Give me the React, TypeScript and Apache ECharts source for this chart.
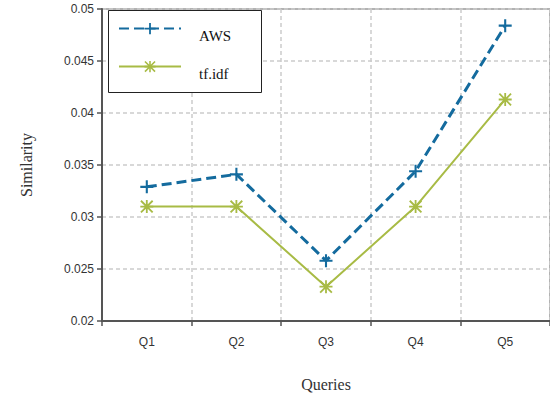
import React, { useEffect, useRef } from "react";
import * as echarts from "echarts";

const categories = ["Q1", "Q2", "Q3", "Q4", "Q5"];
const awsValues = [0.0329, 0.0341, 0.0258, 0.0344, 0.0484];
const tfidfValues = [0.031, 0.031, 0.0233, 0.031, 0.0413];
const yMin = 0.02;
const yMax = 0.05;
const yInterval = 0.005;

const plusPath = "path://M4.2,0H5.8V4.2H10V5.8H5.8V10H4.2V5.8H0V4.2H4.2Z";
const starPath =
  "path://M0,1L1,0L10,9L9,10Z M9,0L10,1L1,10L0,9Z M0,4.3H10V5.7H0Z M4.3,0H5.7V10H4.3Z";

const legendBase = {
  orient: "vertical",
  left: 118,
  padding: 0,
  z: 5,
  itemWidth: 62,
  itemHeight: 14,
  formatter: "{a|{name}}",
  textStyle: {
    fontFamily: "Liberation Serif",
    fontSize: 15,
    color: "#111",
    rich: {
      a: {
        fontFamily: "Liberation Serif",
        fontSize: 15,
        color: "#111",
        padding: [14, 0, 0, 13],
      },
    },
  },
};

export default function App() {
  const ref = useRef<HTMLDivElement>(null);
  useEffect(() => {
    if (!ref.current) return;
    const chart = echarts.init(ref.current, null, { renderer: "svg" });
    chart.setOption({
      animation: false,
      backgroundColor: "#ffffff",
      grid: {
        left: 102,
        top: 9,
        right: -4,
        bottom: 74,
        show: true,
        borderColor: "#999",
        borderWidth: 1.5,
      },
      graphic: [
        {
          type: "rect",
          z: 3,
          shape: { x: 108.5, y: 10.5, width: 153, height: 82 },
          style: { fill: "#fff", stroke: "#222", lineWidth: 1 },
        },
      ],
      legend: [
        { ...legendBase, top: 23, data: ["AWS"] },
        { ...legendBase, top: 61, data: ["tf.idf"] },
      ],
      xAxis: {
        type: "category",
        data: categories,
        boundaryGap: true,
        name: "Queries",
        nameLocation: "middle",
        nameGap: 55,
        nameTextStyle: { fontFamily: "Liberation Serif", fontSize: 16, color: "#333" },
        axisLine: { lineStyle: { color: "#555", width: 2 } },
        axisTick: { show: true, length: 5, lineStyle: { color: "#555", width: 1.5 } },
        axisLabel: { fontFamily: "Liberation Sans", fontSize: 12, color: "#333", margin: 15 },
        splitLine: { show: true, lineStyle: { color: "#ccc", type: [4, 3], width: 1.5 } },
      },
      yAxis: {
        type: "value",
        min: yMin,
        max: yMax,
        interval: yInterval,
        name: "Similarity",
        nameLocation: "middle",
        nameGap: 68,
        nameTextStyle: { fontFamily: "Liberation Serif", fontSize: 16, color: "#333" },
        axisLine: { show: true, lineStyle: { color: "#555", width: 2 } },
        axisTick: { show: true, length: 5, lineStyle: { color: "#555", width: 1.5 } },
        axisLabel: { fontFamily: "Liberation Sans", fontSize: 12, color: "#333", margin: 8 },
        splitLine: { show: true, lineStyle: { color: "#ccc", type: [4, 3], width: 1.5 } },
      },
      series: [
        {
          name: "AWS",
          type: "line",
          data: awsValues,
          symbol: plusPath,
          symbolSize: 13,
          showAllSymbol: true,
          lineStyle: { color: "#146b9e", width: 3, type: [10, 5] },
          itemStyle: { color: "#146b9e" },
          z: 3,
        },
        {
          name: "tf.idf",
          type: "line",
          data: tfidfValues,
          symbol: starPath,
          symbolSize: 13,
          showAllSymbol: true,
          lineStyle: { color: "#a8bb45", width: 2, type: "solid" },
          itemStyle: { color: "#a8bb45" },
          z: 2,
        },
      ],
    });
    return () => chart.dispose();
  }, []);
  return (
    <div
      ref={ref}
      style={{ position: "fixed", left: 0, top: 0, width: 550, height: 397 }}
    />
  );
}
